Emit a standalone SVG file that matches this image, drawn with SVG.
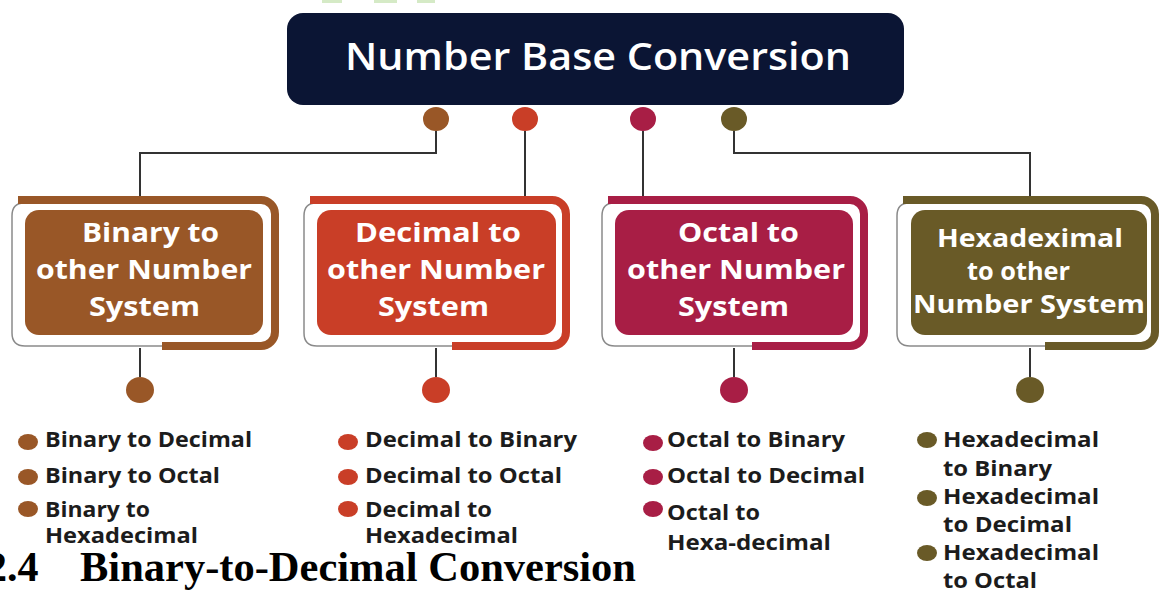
<svg xmlns="http://www.w3.org/2000/svg" width="1162" height="592" viewBox="0 0 1162 592">
<style>
.bt{font-family:"Open Sans","Liberation Sans",sans-serif;font-weight:700;font-size:27px;fill:#ffffff;text-anchor:start}
.lt{font-family:"Open Sans","Liberation Sans",sans-serif;font-weight:700;font-size:21px;fill:#1c1c1c}
.gray{fill:none;stroke:#8a8a8a;stroke-width:1.5}
.bar{fill:none;stroke-width:8}
.con{fill:none;stroke:#333333;stroke-width:2}
.c1{fill:#995727}.s1{stroke:#995727}
.c2{fill:#c93e27}.s2{stroke:#c93e27}
.c3{fill:#a81e45}.s3{stroke:#a81e45}
.c4{fill:#695a27}.s4{stroke:#695a27}
</style>
<rect width="1162" height="592" fill="#ffffff"/>
<g id="artifacts" fill="#d5eac6">
<rect x="322" y="0" width="20" height="3"/>
<rect x="374" y="0" width="23" height="3"/>
<rect x="417" y="0" width="18" height="3"/>
</g>
<g id="connectors">
<path class="con" d="M436 131 V153 H140 V196"/>
<path class="con" d="M525 131 V196"/>
<path class="con" d="M643 131 V196"/>
<path class="con" d="M734 131 V153 H1030 V196"/>
<path class="con" d="M140 348 V377"/>
<path class="con" d="M436 348 V377"/>
<path class="con" d="M734 348 V377"/>
<path class="con" d="M1030 348 V377"/>
</g>
<g id="title">
<rect x="287" y="13" width="617" height="92" rx="16" fill="#0b1534"/>
<text x="345" y="70" textLength="506" lengthAdjust="spacingAndGlyphs" style="font-family:'Open Sans','Liberation Sans',sans-serif;font-weight:600;font-size:38px;fill:#ffffff">Number Base Conversion</text>
<ellipse class="c1" cx="436" cy="119" rx="13" ry="12"/>
<ellipse class="c2" cx="525" cy="119" rx="13" ry="12"/>
<ellipse class="c3" cx="643" cy="119" rx="13" ry="12"/>
<ellipse class="c4" cx="734" cy="119" rx="13" ry="12"/>
</g>
<g id="binary">
<path class="gray" d="M24 203 Q12 203 12 216 V333 Q12 346 25 346 H166"/>
<path class="bar s1" d="M18 200 H261 A14 14 0 0 1 275 214 V332 A14 14 0 0 1 261 346 H162"/>
<rect class="c1" x="25" y="210" width="238" height="125" rx="14"/>
<text class="bt" x="82" y="242" textLength="137" lengthAdjust="spacingAndGlyphs">Binary to</text>
<text class="bt" x="36" y="279" textLength="216" lengthAdjust="spacingAndGlyphs">other Number</text>
<text class="bt" x="89" y="316" textLength="111" lengthAdjust="spacingAndGlyphs">System</text>
<ellipse class="c1" cx="140" cy="390" rx="14" ry="13"/>
<ellipse class="c1" cx="28" cy="442" rx="10" ry="8"/>
<ellipse class="c1" cx="28" cy="477" rx="10" ry="8"/>
<ellipse class="c1" cx="28" cy="509" rx="10" ry="8"/>
<text class="lt" x="45" y="447" textLength="207" lengthAdjust="spacingAndGlyphs">Binary to Decimal</text>
<text class="lt" x="45" y="483" textLength="175" lengthAdjust="spacingAndGlyphs">Binary to Octal</text>
<text class="lt" x="45" y="517" textLength="105" lengthAdjust="spacingAndGlyphs">Binary to</text>
<text class="lt" x="45" y="543" textLength="153" lengthAdjust="spacingAndGlyphs">Hexadecimal</text>
</g>
<g id="decimal">
<path class="gray" d="M316 203 Q304 203 304 216 V333 Q304 346 317 346 H456"/>
<path class="bar s2" d="M310 200 H552 A14 14 0 0 1 566 214 V332 A14 14 0 0 1 552 346 H452"/>
<rect class="c2" x="317" y="210" width="239" height="125" rx="14"/>
<text class="bt" x="355" y="242" textLength="166" lengthAdjust="spacingAndGlyphs">Decimal to</text>
<text class="bt" x="327" y="279" textLength="218" lengthAdjust="spacingAndGlyphs">other Number</text>
<text class="bt" x="378" y="316" textLength="111" lengthAdjust="spacingAndGlyphs">System</text>
<ellipse class="c2" cx="436" cy="390" rx="14" ry="13"/>
<ellipse class="c2" cx="348" cy="442" rx="10" ry="8"/>
<ellipse class="c2" cx="348" cy="477" rx="10" ry="8"/>
<ellipse class="c2" cx="348" cy="509" rx="10" ry="8"/>
<text class="lt" x="365" y="447" textLength="212" lengthAdjust="spacingAndGlyphs">Decimal to Binary</text>
<text class="lt" x="365" y="483" textLength="197" lengthAdjust="spacingAndGlyphs">Decimal to Octal</text>
<text class="lt" x="365" y="517" textLength="127" lengthAdjust="spacingAndGlyphs">Decimal to</text>
<text class="lt" x="365" y="543" textLength="153" lengthAdjust="spacingAndGlyphs">Hexadecimal</text>
</g>
<g id="octal">
<path class="gray" d="M614 203 Q602 203 602 216 V333 Q602 346 615 346 H756"/>
<path class="bar s3" d="M608 200 H850 A14 14 0 0 1 864 214 V332 A14 14 0 0 1 850 346 H752"/>
<rect class="c3" x="615" y="210" width="238" height="125" rx="14"/>
<text class="bt" x="678" y="242" textLength="121" lengthAdjust="spacingAndGlyphs">Octal to</text>
<text class="bt" x="627" y="279" textLength="218" lengthAdjust="spacingAndGlyphs">other Number</text>
<text class="bt" x="678" y="316" textLength="111" lengthAdjust="spacingAndGlyphs">System</text>
<ellipse class="c3" cx="734" cy="390" rx="14" ry="13"/>
<ellipse class="c3" cx="653" cy="443" rx="10" ry="8"/>
<ellipse class="c3" cx="653" cy="477" rx="10" ry="8"/>
<ellipse class="c3" cx="653" cy="509" rx="10" ry="8"/>
<text class="lt" x="667" y="447" textLength="178" lengthAdjust="spacingAndGlyphs">Octal to Binary</text>
<text class="lt" x="667" y="483" textLength="198" lengthAdjust="spacingAndGlyphs">Octal to Decimal</text>
<text class="lt" x="667" y="520" textLength="93" lengthAdjust="spacingAndGlyphs">Octal to</text>
<text class="lt" x="667" y="550" textLength="164" lengthAdjust="spacingAndGlyphs">Hexa-decimal</text>
</g>
<g id="hexadecimal">
<path class="gray" d="M909 203 Q897 203 897 216 V333 Q897 346 910 346 H1049"/>
<path class="bar s4" d="M903 200 H1141 A14 14 0 0 1 1155 214 V332 A14 14 0 0 1 1141 346 H1045"/>
<rect class="c4" x="911" y="210" width="236" height="125" rx="14"/>
<text class="bt" x="937" y="247" textLength="186" lengthAdjust="spacingAndGlyphs" style="font-size:25px">Hexadeximal</text>
<text class="bt" x="967" y="280" textLength="103" lengthAdjust="spacingAndGlyphs" style="font-size:25px">to other</text>
<text class="bt" x="913" y="313" textLength="232" lengthAdjust="spacingAndGlyphs" style="font-size:25px">Number System</text>
<ellipse class="c4" cx="1030" cy="390" rx="14" ry="13"/>
<ellipse class="c4" cx="927" cy="440" rx="10" ry="8"/>
<ellipse class="c4" cx="927" cy="498" rx="10" ry="8"/>
<ellipse class="c4" cx="927" cy="553" rx="10" ry="8"/>
<text class="lt" x="943" y="447" textLength="156" lengthAdjust="spacingAndGlyphs">Hexadecimal</text>
<text class="lt" x="943" y="476" textLength="109" lengthAdjust="spacingAndGlyphs">to Binary</text>
<text class="lt" x="943" y="504" textLength="156" lengthAdjust="spacingAndGlyphs">Hexadecimal</text>
<text class="lt" x="943" y="532" textLength="129" lengthAdjust="spacingAndGlyphs">to Decimal</text>
<text class="lt" x="943" y="560" textLength="156" lengthAdjust="spacingAndGlyphs">Hexadecimal</text>
<text class="lt" x="943" y="588" textLength="94" lengthAdjust="spacingAndGlyphs">to Octal</text>
</g>
<g id="heading" style="font-family:'Liberation Serif','Times New Roman',serif;font-weight:bold;font-size:42px;fill:#000000">
<text x="-14" y="581">2.4</text>
<text x="80" y="581" textLength="556" lengthAdjust="spacingAndGlyphs">Binary-to-Decimal Conversion</text>
</g>
</svg>
